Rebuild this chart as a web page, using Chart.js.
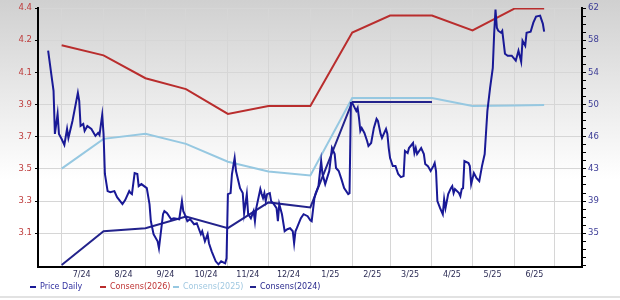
<!DOCTYPE html>
<html>
<head>
<meta charset="utf-8">
<script src="https://cdn.jsdelivr.net/npm/chart.js@4.4.1/dist/chart.umd.min.js"></script>
<style>
  html, body { margin: 0; padding: 0; background: #fff; }
  #wrap { width: 620px; height: 300px; }
</style>
</head>
<body>
<div id="wrap"><canvas id="chart" width="620" height="300"></canvas></div>
<script>
"use strict";

/*-- data --*/
var monthLabels = ['7/24', '8/24', '9/24', '10/24', '11/24', '12/24', '1/25', '2/25', '3/25', '4/25', '5/25', '6/25'];
var leftTickLabels = ['3.1', '3.3', '3.5', '3.7', '3.9', '4.1', '4.2', '4.4'];
var rightTickLabels = ['35', '39', '43', '46', '50', '54', '58', '62'];

var priceDates = [
  '2024-06-21', '2024-06-24', '2024-06-25', '2024-06-26', '2024-06-28', '2024-06-29', '2024-07-01', '2024-07-03',
  '2024-07-05', '2024-07-06', '2024-07-09', '2024-07-13', '2024-07-14', '2024-07-15', '2024-07-17', '2024-07-18',
  '2024-07-20', '2024-07-23', '2024-07-26', '2024-07-28', '2024-07-29', '2024-07-31', '2024-08-01', '2024-08-02',
  '2024-08-04', '2024-08-06', '2024-08-09', '2024-08-11', '2024-08-15', '2024-08-17', '2024-08-20', '2024-08-21',
  '2024-08-22', '2024-08-24', '2024-08-26', '2024-08-27', '2024-08-29', '2024-09-02', '2024-09-04', '2024-09-05',
  '2024-09-07', '2024-09-10', '2024-09-11', '2024-09-14', '2024-09-15', '2024-09-17', '2024-09-20', '2024-09-22',
  '2024-09-26', '2024-09-28', '2024-09-29', '2024-09-30', '2024-10-02', '2024-10-04', '2024-10-07', '2024-10-09',
  '2024-10-12', '2024-10-13', '2024-10-15', '2024-10-17', '2024-10-18', '2024-10-20', '2024-10-23', '2024-10-25',
  '2024-10-27', '2024-10-30', '2024-10-31', '2024-11-01', '2024-11-03', '2024-11-04', '2024-11-06', '2024-11-07',
  '2024-11-10', '2024-11-12', '2024-11-13', '2024-11-15', '2024-11-16', '2024-11-18', '2024-11-20', '2024-11-21',
  '2024-11-22', '2024-11-25', '2024-11-26', '2024-11-27', '2024-11-28', '2024-11-29', '2024-11-30', '2024-12-02',
  '2024-12-03', '2024-12-05', '2024-12-07', '2024-12-08', '2024-12-09', '2024-12-11', '2024-12-13', '2024-12-15',
  '2024-12-17', '2024-12-19', '2024-12-20', '2024-12-21', '2024-12-22', '2024-12-25', '2024-12-27', '2024-12-30',
  '2025-01-01', '2025-01-02', '2025-01-04', '2025-01-05', '2025-01-07', '2025-01-09', '2025-01-10', '2025-01-12',
  '2025-01-15', '2025-01-17', '2025-01-19', '2025-01-20', '2025-01-22', '2025-01-24', '2025-01-26', '2025-01-29',
  '2025-01-30', '2025-01-31', '2025-02-01', '2025-02-04', '2025-02-05', '2025-02-06', '2025-02-07', '2025-02-08',
  '2025-02-10', '2025-02-12', '2025-02-13', '2025-02-15', '2025-02-17', '2025-02-19', '2025-02-20', '2025-02-22',
  '2025-02-23', '2025-02-26', '2025-02-27', '2025-02-28', '2025-03-01', '2025-03-03', '2025-03-05', '2025-03-07',
  '2025-03-09', '2025-03-11', '2025-03-12', '2025-03-14', '2025-03-15', '2025-03-18', '2025-03-19', '2025-03-20',
  '2025-03-21', '2025-03-24', '2025-03-26', '2025-03-27', '2025-03-29', '2025-03-31', '2025-04-02', '2025-04-03',
  '2025-04-04', '2025-04-05', '2025-04-07', '2025-04-09', '2025-04-10', '2025-04-11', '2025-04-13', '2025-04-15',
  '2025-04-16', '2025-04-17', '2025-04-18', '2025-04-21', '2025-04-22', '2025-04-23', '2025-04-24', '2025-04-25',
  '2025-04-28', '2025-04-29', '2025-04-30', '2025-05-02', '2025-05-04', '2025-05-06', '2025-05-08', '2025-05-10',
  '2025-05-12', '2025-05-14', '2025-05-16', '2025-05-17', '2025-05-18', '2025-05-19', '2025-05-20', '2025-05-22',
  '2025-05-23', '2025-05-25', '2025-05-27', '2025-05-30', '2025-06-02', '2025-06-04', '2025-06-06', '2025-06-07',
  '2025-06-09', '2025-06-10', '2025-06-13', '2025-06-15', '2025-06-17', '2025-06-20', '2025-06-22', '2025-06-23'
];
var priceValues = [
  56.89, 53.28, 52.08, 46.91, 49.31, 46.91, 46.30, 45.59,
  47.51, 46.43, 48.47, 51.84, 50.88, 47.87, 48.11, 47.27,
  47.87, 47.51, 46.67, 47.03, 46.79, 49.19, 46.91, 42.10,
  40.05, 39.93, 40.05, 39.33, 38.49, 38.97, 40.05, 39.81,
  39.69, 42.22, 42.10, 40.65, 40.89, 40.41, 38.49, 36.44,
  34.88, 34.04, 33.19, 37.28, 37.65, 37.40, 36.68, 36.80,
  36.68, 38.85, 37.65, 37.28, 36.44, 36.68, 36.08, 36.20,
  34.88, 35.24, 34.04, 34.88, 33.80, 32.83, 31.63, 31.27,
  31.63, 31.39, 31.99, 39.69, 39.81, 42.10, 44.02, 42.46,
  40.41, 39.81, 37.40, 39.69, 37.28, 36.80, 37.65, 36.44,
  38.01, 40.29, 39.69, 39.21, 39.81, 38.85, 39.69, 39.81,
  38.85, 38.49, 38.01, 36.44, 38.49, 37.28, 35.24, 35.48,
  35.60, 35.24, 33.80, 35.24, 35.60, 36.80, 37.28, 37.04,
  36.56, 36.44, 39.21, 39.81, 40.65, 43.66, 42.10, 40.89,
  42.46, 45.22, 44.50, 42.82, 42.46, 41.49, 40.41, 39.69,
  39.81, 50.63, 50.63, 49.67, 50.03, 48.83, 47.27, 47.63,
  47.03, 46.06, 45.46, 45.82, 47.63, 48.71, 48.47, 46.91,
  46.43, 47.51, 46.91, 45.22, 44.02, 43.05, 43.05, 42.10,
  41.73, 41.85, 44.86, 44.62, 45.22, 45.82, 44.62, 45.22,
  44.50, 45.22, 44.50, 43.30, 43.05, 42.46, 43.05, 43.42,
  42.46, 38.85, 38.01, 37.28, 39.09, 38.01, 39.69, 40.41,
  40.65, 39.81, 40.29, 39.81, 39.45, 40.29, 40.41, 43.66,
  43.42, 43.05, 40.89, 42.22, 41.61, 41.25, 43.05, 44.50,
  49.67, 52.44, 54.84, 58.93, 61.82, 59.65, 59.29, 59.05,
  59.29, 56.53, 56.29, 56.29, 55.69, 56.89, 55.57, 58.09,
  57.49, 59.05, 59.17, 60.26, 60.98, 61.10, 60.14, 59.17
];

var consensDates = [
  '2024-07-01', '2024-08-01', '2024-09-01', '2024-10-01', '2024-11-01', '2024-12-01', '2025-01-01',
  '2025-02-01', '2025-03-01', '2025-04-01', '2025-05-01', '2025-06-01', '2025-06-23'
];
var consens2026 = [4.185, 4.127, 3.995, 3.932, 3.789, 3.835, 3.835, 4.259, 4.357, 4.357, 4.271, 4.397, 4.397];
var consens2025 = [3.473, 3.645, 3.674, 3.616, 3.513, 3.456, 3.433, 3.881, 3.881, 3.881, 3.835, 3.838, 3.840];
var consens2024 = [2.916, 3.111, 3.129, 3.197, 3.129, 3.278, 3.249, 3.858, 3.858, 3.858];

/*-- helpers --*/
var DAY0 = Date.UTC(2024, 6, 1);
function dayNum(s) {
  var p = s.split('-');
  return (Date.UTC(+p[0], +p[1] - 1, +p[2]) - DAY0) / 86400000;
}
function toPoints(dates, values) {
  return values.map(function (v, i) { return { x: dayNum(dates[i]), y: v }; });
}
var monthTicks = [];
for (var m = 0; m <= 12; m++) {
  monthTicks.push((Date.UTC(2024, 6 + m, 1) - DAY0) / 86400000);
}

var stepL = 1.3 / 7;
var stepR = 27 / 7;
var FONT = 'DejaVu Sans';

/*-- background + legend --*/
var chromePlugin = {
  id: 'chrome',
  beforeDraw: function (chart) {
    var c = chart.ctx;
    var g = c.createLinearGradient(0, 0, 0, 300);
    g.addColorStop(0, '#d0d0d0');
    g.addColorStop(0.35, '#ececec');
    g.addColorStop(0.6, '#ffffff');
    c.save();
    c.fillStyle = g;
    c.fillRect(0, 0, chart.width, chart.height);
    c.restore();
  },
  afterDraw: function (chart) {
    var c = chart.ctx;
    var xs = [30, 100, 173, 250];
    var textColors = ['rgb(50,50,160)', 'rgb(190,50,50)', 'rgb(160,200,225)', 'rgb(40,40,140)'];
    c.save();
    c.font = '8px "' + FONT + '"';
    c.textBaseline = 'middle';
    chart.data.datasets.forEach(function (ds, i) {
      c.fillStyle = ds.borderColor;
      c.fillRect(xs[i], 286, 6, 2);
      c.fillStyle = textColors[i];
      c.fillText(ds.label, xs[i] + 10, 287);
    });
    c.fillStyle = '#e2e2e2';
    c.fillRect(0, 296, chart.width, 2);
    c.restore();
  }
};

new Chart(document.getElementById('chart').getContext('2d'), {
  type: 'line',
  data: {
    datasets: [{
      label: 'Price Daily',
      data: toPoints(priceDates, priceValues),
      yAxisID: 'yR',
      borderColor: 'rgb(25,25,150)',
      borderWidth: 2
    }, {
      label: 'Consens(2026)',
      data: toPoints(consensDates, consens2026),
      yAxisID: 'yL',
      borderColor: 'rgb(185,45,45)',
      borderWidth: 2
    }, {
      label: 'Consens(2025)',
      data: toPoints(consensDates, consens2025),
      yAxisID: 'yL',
      borderColor: 'rgb(150,200,225)',
      borderWidth: 2
    }, {
      label: 'Consens(2024)',
      data: toPoints(consensDates, consens2024),
      yAxisID: 'yL',
      borderColor: 'rgb(35,35,140)',
      borderWidth: 2
    }]
  },
  options: {
    responsive: false,
    animation: false,
    devicePixelRatio: 1,
    elements: { point: { radius: 0 }, line: { tension: 0 } },
    layout: { padding: { top: 6.5, bottom: 13, left: 0, right: 0 } },
    plugins: { legend: { display: false }, tooltip: { enabled: false } },
    scales: {
      x: {
        type: 'linear',
        min: -17.5,
        max: 385,
        afterBuildTicks: function (s) { s.ticks = monthTicks.map(function (v) { return { value: v }; }); },
        afterFit: function (s) { s.height = 20; },
        ticks: {
          autoSkip: false,
          maxRotation: 0,
          labelOffset: 20,
          padding: 3,
          color: 'rgb(45,45,85)',
          font: { family: FONT, size: 8 },
          callback: function (v, i) { return monthLabels[i] || ''; }
        },
        grid: { color: '#d6d6d6', drawTicks: false },
        border: { color: '#000', width: 2 }
      },
      yL: {
        position: 'left',
        min: 3.1 - 1.05 * stepL,
        max: 4.4,
        afterBuildTicks: function (s) { s.ticks = leftTickLabels.map(function (l, i) { return { value: 3.1 + i * stepL }; }); },
        afterFit: function (s) { s.width = 38; },
        ticks: {
          autoSkip: false,
          padding: 3,
          color: 'rgb(190,60,60)',
          font: { family: FONT, size: 8.5 },
          callback: function (v, i) { return leftTickLabels[i]; }
        },
        grid: { color: '#d6d6d6', tickColor: '#000', tickLength: 3 },
        border: { color: '#000', width: 2 }
      },
      yR: {
        position: 'right',
        min: 35 - 1.05 * stepR,
        max: 62,
        afterBuildTicks: function (s) {
          var t = [];
          for (var k = 32; k >= 0; k--) t.push({ value: 62 - k * stepR / 4 });
          s.ticks = t;
        },
        afterFit: function (s) { s.width = 38; },
        ticks: {
          autoSkip: false,
          padding: 2,
          color: 'rgb(60,60,150)',
          font: { family: FONT, size: 8.5 },
          callback: function (v, i) {
            var k = 32 - i;
            return (k % 4 === 0 && k / 4 <= 7) ? rightTickLabels[7 - k / 4] : '';
          }
        },
        grid: { drawOnChartArea: false, tickColor: '#000', tickLength: 4 },
        border: { color: '#000', width: 2 }
      }
    }
  },
  plugins: [chromePlugin]
});
</script>
</body>
</html>
